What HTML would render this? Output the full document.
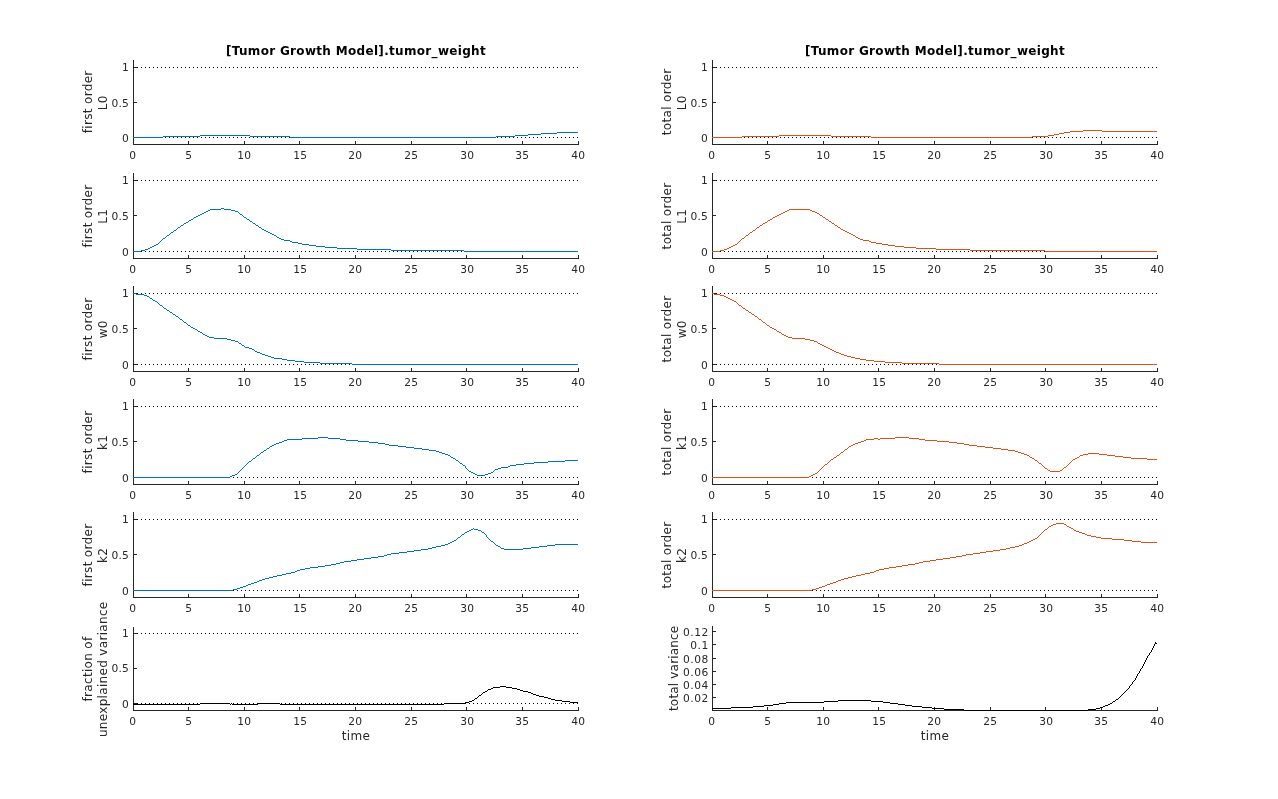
<!DOCTYPE html>
<html lang="en"><head><meta charset="utf-8"><title>[Tumor Growth Model].tumor_weight</title>
<style>html,body{margin:0;padding:0;background:#fff}body{width:1278px;height:799px;overflow:hidden}svg{display:block}text{font-family:"DejaVu Sans","Liberation Sans",sans-serif;fill:#262626}.t{font-size:10.667px;letter-spacing:0.21px}.l{font-size:12px;letter-spacing:0.32px}.h{font-size:12px;font-weight:bold;fill:#000;letter-spacing:0.32px}.ax{fill:#262626;shape-rendering:crispEdges}.c{fill:none;stroke-width:1;shape-rendering:crispEdges;stroke-linejoin:round}.d{stroke:#000;stroke-width:1;stroke-dasharray:1 3;shape-rendering:crispEdges;fill:none}</style></head><body>
<svg width="1278" height="799" viewBox="0 0 1278 799">
<rect x="0" y="0" width="1278" height="799" fill="#fff"/>
<g>
<rect class="ax" x="133" y="60" width="1" height="85"/>
<rect class="ax" x="133" y="144" width="446" height="1"/>
<text class="t" text-anchor="middle" x="132.7" y="159.2">0</text>
<rect class="ax" x="188" y="141" width="1" height="3"/>
<text class="t" text-anchor="middle" x="188.7" y="159.2">5</text>
<rect class="ax" x="244" y="141" width="1" height="3"/>
<text class="t" text-anchor="middle" x="244.15" y="159.2">10</text>
<rect class="ax" x="299" y="141" width="1" height="3"/>
<text class="t" text-anchor="middle" x="300.15" y="159.2">15</text>
<rect class="ax" x="355" y="141" width="1" height="3"/>
<text class="t" text-anchor="middle" x="355.15" y="159.2">20</text>
<rect class="ax" x="411" y="141" width="1" height="3"/>
<text class="t" text-anchor="middle" x="411.15" y="159.2">25</text>
<rect class="ax" x="466" y="141" width="1" height="3"/>
<text class="t" text-anchor="middle" x="467.15" y="159.2">30</text>
<rect class="ax" x="522" y="141" width="1" height="3"/>
<text class="t" text-anchor="middle" x="522.15" y="159.2">35</text>
<rect class="ax" x="578" y="141" width="1" height="3"/>
<text class="t" text-anchor="middle" x="578.15" y="159.2">40</text>
<rect class="ax" x="134" y="67" width="3" height="1"/>
<text class="t" text-anchor="end" x="129.11" y="71.1">1</text>
<rect class="ax" x="134" y="102" width="3" height="1"/>
<text class="t" text-anchor="end" x="129.11" y="106.6">0.5</text>
<rect class="ax" x="134" y="137" width="3" height="1"/>
<text class="t" text-anchor="end" x="129.11" y="142.1">0</text>
<line class="d" x1="133" y1="67.5" x2="579" y2="67.5"/>
<line class="d" x1="133" y1="137.5" x2="579" y2="137.5"/>
<path class="c" stroke="#0072BD" d="M557 132.5h21M541 133.5h16M528 134.5h13M200 135.5h50M515 135.5h13M163 136.5h37M250 136.5h40M496 136.5h19M133 137.5h30M290 137.5h206"/>
<text class="l" text-anchor="middle" transform="translate(92,101.8) rotate(-90)">first order</text>
<text class="l" text-anchor="middle" transform="translate(107,102.8) rotate(-90)">L0</text>
<text class="h" text-anchor="middle" x="356" y="55.1">[Tumor Growth Model].tumor_weight</text>
</g>
<g>
<rect class="ax" x="133" y="173" width="1" height="86"/>
<rect class="ax" x="133" y="258" width="446" height="1"/>
<text class="t" text-anchor="middle" x="132.7" y="273.2">0</text>
<rect class="ax" x="188" y="255" width="1" height="3"/>
<text class="t" text-anchor="middle" x="188.7" y="273.2">5</text>
<rect class="ax" x="244" y="255" width="1" height="3"/>
<text class="t" text-anchor="middle" x="244.15" y="273.2">10</text>
<rect class="ax" x="299" y="255" width="1" height="3"/>
<text class="t" text-anchor="middle" x="300.15" y="273.2">15</text>
<rect class="ax" x="355" y="255" width="1" height="3"/>
<text class="t" text-anchor="middle" x="355.15" y="273.2">20</text>
<rect class="ax" x="411" y="255" width="1" height="3"/>
<text class="t" text-anchor="middle" x="411.15" y="273.2">25</text>
<rect class="ax" x="466" y="255" width="1" height="3"/>
<text class="t" text-anchor="middle" x="467.15" y="273.2">30</text>
<rect class="ax" x="522" y="255" width="1" height="3"/>
<text class="t" text-anchor="middle" x="522.15" y="273.2">35</text>
<rect class="ax" x="578" y="255" width="1" height="3"/>
<text class="t" text-anchor="middle" x="578.15" y="273.2">40</text>
<rect class="ax" x="134" y="180" width="3" height="1"/>
<text class="t" text-anchor="end" x="129.11" y="184.1">1</text>
<rect class="ax" x="134" y="215" width="3" height="1"/>
<text class="t" text-anchor="end" x="129.11" y="219.6">0.5</text>
<rect class="ax" x="134" y="251" width="3" height="1"/>
<text class="t" text-anchor="end" x="129.11" y="256.1">0</text>
<line class="d" x1="133" y1="180.5" x2="579" y2="180.5"/>
<line class="d" x1="133" y1="251.5" x2="579" y2="251.5"/>
<path class="c" stroke="#0072BD" d="M221 208.5h3M210 209.5h11M224 209.5h7M208 210.5h2M231 210.5h4M206 211.5h2M235 211.5h3M204 212.5h2M238 212.5h1M202 213.5h2M239 213.5h1M200 214.5h2M240 214.5h2M198 215.5h2M242 215.5h1M196 216.5h2M243 216.5h1M194 217.5h2M244 217.5h2M193 218.5h1M246 218.5h1M191 219.5h2M247 219.5h2M189 220.5h2M249 220.5h1M188 221.5h1M250 221.5h2M186 222.5h2M252 222.5h1M184 223.5h2M253 223.5h2M183 224.5h1M255 224.5h1M181 225.5h2M256 225.5h2M180 226.5h1M258 226.5h1M178 227.5h2M259 227.5h2M177 228.5h1M261 228.5h1M176 229.5h1M262 229.5h2M174 230.5h2M264 230.5h2M173 231.5h1M266 231.5h2M171 232.5h2M268 232.5h2M170 233.5h1M270 233.5h2M169 234.5h1M272 234.5h2M167 235.5h2M274 235.5h2M166 236.5h1M276 236.5h1M165 237.5h1M277 237.5h2M163 238.5h2M279 238.5h2M162 239.5h1M281 239.5h3M161 240.5h1M284 240.5h6M160 241.5h1M290 241.5h2M159 242.5h1M292 242.5h6M158 243.5h1M298 243.5h4M156 244.5h2M302 244.5h7M154 245.5h2M309 245.5h7M152 246.5h2M316 246.5h9M150 247.5h2M325 247.5h12M148 248.5h2M337 248.5h20M145 249.5h3M357 249.5h34M141 250.5h4M391 250.5h73M133 251.5h8M464 251.5h114"/>
<text class="l" text-anchor="middle" transform="translate(92,216) rotate(-90)">first order</text>
<text class="l" text-anchor="middle" transform="translate(107,216.3) rotate(-90)">L1</text>
</g>
<g>
<rect class="ax" x="133" y="286" width="1" height="86"/>
<rect class="ax" x="133" y="371" width="446" height="1"/>
<text class="t" text-anchor="middle" x="132.7" y="386.2">0</text>
<rect class="ax" x="188" y="368" width="1" height="3"/>
<text class="t" text-anchor="middle" x="188.7" y="386.2">5</text>
<rect class="ax" x="244" y="368" width="1" height="3"/>
<text class="t" text-anchor="middle" x="244.15" y="386.2">10</text>
<rect class="ax" x="299" y="368" width="1" height="3"/>
<text class="t" text-anchor="middle" x="300.15" y="386.2">15</text>
<rect class="ax" x="355" y="368" width="1" height="3"/>
<text class="t" text-anchor="middle" x="355.15" y="386.2">20</text>
<rect class="ax" x="411" y="368" width="1" height="3"/>
<text class="t" text-anchor="middle" x="411.15" y="386.2">25</text>
<rect class="ax" x="466" y="368" width="1" height="3"/>
<text class="t" text-anchor="middle" x="467.15" y="386.2">30</text>
<rect class="ax" x="522" y="368" width="1" height="3"/>
<text class="t" text-anchor="middle" x="522.15" y="386.2">35</text>
<rect class="ax" x="578" y="368" width="1" height="3"/>
<text class="t" text-anchor="middle" x="578.15" y="386.2">40</text>
<rect class="ax" x="134" y="293" width="3" height="1"/>
<text class="t" text-anchor="end" x="129.11" y="297.1">1</text>
<rect class="ax" x="134" y="328" width="3" height="1"/>
<text class="t" text-anchor="end" x="129.11" y="332.6">0.5</text>
<rect class="ax" x="134" y="364" width="3" height="1"/>
<text class="t" text-anchor="end" x="129.11" y="369.1">0</text>
<line class="d" x1="133" y1="293.5" x2="579" y2="293.5"/>
<line class="d" x1="133" y1="364.5" x2="579" y2="364.5"/>
<path class="c" stroke="#0072BD" d="M133 293.5h3M136 294.5h8M144 295.5h3M147 296.5h2M149 297.5h1M150 298.5h2M152 299.5h1M153 300.5h2M155 301.5h2M157 302.5h1M158 303.5h1M159 304.5h1M160 305.5h2M162 306.5h1M163 307.5h1M164 308.5h2M166 309.5h1M167 310.5h2M169 311.5h1M170 312.5h2M172 313.5h1M173 314.5h2M175 315.5h1M176 316.5h2M178 317.5h1M179 318.5h1M180 319.5h2M182 320.5h1M183 321.5h1M184 322.5h2M186 323.5h1M187 324.5h1M188 325.5h2M190 326.5h1M191 327.5h2M193 328.5h2M195 329.5h2M197 330.5h1M198 331.5h2M200 332.5h2M202 333.5h1M203 334.5h2M205 335.5h2M207 336.5h2M209 337.5h5M214 338.5h13M227 339.5h4M231 340.5h4M235 341.5h3M238 342.5h1M239 343.5h2M241 344.5h1M242 345.5h2M244 346.5h1M245 347.5h4M249 348.5h3M252 349.5h2M254 350.5h1M255 351.5h2M257 352.5h3M260 353.5h2M262 354.5h3M265 355.5h3M268 356.5h3M271 357.5h3M274 358.5h8M282 359.5h5M287 360.5h8M295 361.5h9M304 362.5h16M320 363.5h32M352 364.5h226"/>
<text class="l" text-anchor="middle" transform="translate(92,329) rotate(-90)">first order</text>
<text class="l" text-anchor="middle" transform="translate(107,329.3) rotate(-90)">w0</text>
</g>
<g>
<rect class="ax" x="133" y="399" width="1" height="86"/>
<rect class="ax" x="133" y="484" width="446" height="1"/>
<text class="t" text-anchor="middle" x="132.7" y="499.2">0</text>
<rect class="ax" x="188" y="481" width="1" height="3"/>
<text class="t" text-anchor="middle" x="188.7" y="499.2">5</text>
<rect class="ax" x="244" y="481" width="1" height="3"/>
<text class="t" text-anchor="middle" x="244.15" y="499.2">10</text>
<rect class="ax" x="299" y="481" width="1" height="3"/>
<text class="t" text-anchor="middle" x="300.15" y="499.2">15</text>
<rect class="ax" x="355" y="481" width="1" height="3"/>
<text class="t" text-anchor="middle" x="355.15" y="499.2">20</text>
<rect class="ax" x="411" y="481" width="1" height="3"/>
<text class="t" text-anchor="middle" x="411.15" y="499.2">25</text>
<rect class="ax" x="466" y="481" width="1" height="3"/>
<text class="t" text-anchor="middle" x="467.15" y="499.2">30</text>
<rect class="ax" x="522" y="481" width="1" height="3"/>
<text class="t" text-anchor="middle" x="522.15" y="499.2">35</text>
<rect class="ax" x="578" y="481" width="1" height="3"/>
<text class="t" text-anchor="middle" x="578.15" y="499.2">40</text>
<rect class="ax" x="134" y="406" width="3" height="1"/>
<text class="t" text-anchor="end" x="129.11" y="410.1">1</text>
<rect class="ax" x="134" y="441" width="3" height="1"/>
<text class="t" text-anchor="end" x="129.11" y="445.6">0.5</text>
<rect class="ax" x="134" y="477" width="3" height="1"/>
<text class="t" text-anchor="end" x="129.11" y="482.1">0</text>
<line class="d" x1="133" y1="406.5" x2="579" y2="406.5"/>
<line class="d" x1="133" y1="477.5" x2="579" y2="477.5"/>
<path class="c" stroke="#0072BD" d="M318 437.5h10M302 438.5h16M328 438.5h12M287 439.5h15M340 439.5h6M284 440.5h3M346 440.5h12M282 441.5h2M358 441.5h11M279 442.5h3M369 442.5h9M276 443.5h3M378 443.5h7M274 444.5h2M385 444.5h4M272 445.5h2M389 445.5h9M270 446.5h2M398 446.5h8M269 447.5h1M406 447.5h8M267 448.5h2M414 448.5h8M266 449.5h1M422 449.5h7M264 450.5h2M429 450.5h7M263 451.5h1M436 451.5h3M261 452.5h2M439 452.5h3M260 453.5h1M442 453.5h3M259 454.5h1M445 454.5h3M257 455.5h2M448 455.5h2M256 456.5h1M450 456.5h1M255 457.5h1M451 457.5h2M253 458.5h2M453 458.5h2M252 459.5h1M455 459.5h1M251 460.5h1M456 460.5h2M565 460.5h13M249 461.5h2M458 461.5h1M548 461.5h17M248 462.5h1M459 462.5h1M534 462.5h14M247 463.5h1M460 463.5h2M524 463.5h10M246 464.5h1M462 464.5h1M516 464.5h8M245 465.5h1M463 465.5h2M510 465.5h6M244 466.5h1M465 466.5h1M508 466.5h2M243 467.5h1M465 467.5h1M501 467.5h7M242 468.5h1M466 468.5h1M498 468.5h3M241 469.5h1M467 469.5h1M495 469.5h3M240 470.5h1M468 470.5h1M494 470.5h1M239 471.5h1M469 471.5h2M493 471.5h1M238 472.5h1M471 472.5h2M491 472.5h2M237 473.5h1M473 473.5h2M488 473.5h3M235 474.5h2M475 474.5h2M485 474.5h3M232 475.5h3M477 475.5h8M230 476.5h2M133 477.5h97"/>
<text class="l" text-anchor="middle" transform="translate(92,442) rotate(-90)">first order</text>
<text class="l" text-anchor="middle" transform="translate(107,442.3) rotate(-90)">k1</text>
</g>
<g>
<rect class="ax" x="133" y="512" width="1" height="86"/>
<rect class="ax" x="133" y="597" width="446" height="1"/>
<text class="t" text-anchor="middle" x="132.7" y="612.2">0</text>
<rect class="ax" x="188" y="594" width="1" height="3"/>
<text class="t" text-anchor="middle" x="188.7" y="612.2">5</text>
<rect class="ax" x="244" y="594" width="1" height="3"/>
<text class="t" text-anchor="middle" x="244.15" y="612.2">10</text>
<rect class="ax" x="299" y="594" width="1" height="3"/>
<text class="t" text-anchor="middle" x="300.15" y="612.2">15</text>
<rect class="ax" x="355" y="594" width="1" height="3"/>
<text class="t" text-anchor="middle" x="355.15" y="612.2">20</text>
<rect class="ax" x="411" y="594" width="1" height="3"/>
<text class="t" text-anchor="middle" x="411.15" y="612.2">25</text>
<rect class="ax" x="466" y="594" width="1" height="3"/>
<text class="t" text-anchor="middle" x="467.15" y="612.2">30</text>
<rect class="ax" x="522" y="594" width="1" height="3"/>
<text class="t" text-anchor="middle" x="522.15" y="612.2">35</text>
<rect class="ax" x="578" y="594" width="1" height="3"/>
<text class="t" text-anchor="middle" x="578.15" y="612.2">40</text>
<rect class="ax" x="134" y="519" width="3" height="1"/>
<text class="t" text-anchor="end" x="129.11" y="523.1">1</text>
<rect class="ax" x="134" y="554" width="3" height="1"/>
<text class="t" text-anchor="end" x="129.11" y="558.6">0.5</text>
<rect class="ax" x="134" y="590" width="3" height="1"/>
<text class="t" text-anchor="end" x="129.11" y="595.1">0</text>
<line class="d" x1="133" y1="519.5" x2="579" y2="519.5"/>
<line class="d" x1="133" y1="590.5" x2="579" y2="590.5"/>
<path class="c" stroke="#0072BD" d="M473 528.5h1M471 529.5h2M474 529.5h4M469 530.5h2M478 530.5h3M467 531.5h2M481 531.5h1M465 532.5h2M482 532.5h2M464 533.5h1M484 533.5h1M462 534.5h2M485 534.5h1M461 535.5h1M486 535.5h1M460 536.5h1M486 536.5h1M458 537.5h2M487 537.5h1M457 538.5h1M488 538.5h1M456 539.5h1M489 539.5h1M454 540.5h2M490 540.5h1M452 541.5h2M491 541.5h2M450 542.5h2M493 542.5h1M448 543.5h2M494 543.5h1M445 544.5h3M495 544.5h1M555 544.5h23M441 545.5h4M496 545.5h2M547 545.5h8M436 546.5h5M498 546.5h2M539 546.5h8M432 547.5h4M500 547.5h1M531 547.5h8M428 548.5h4M501 548.5h3M523 548.5h8M421 549.5h7M504 549.5h19M414 550.5h7M407 551.5h7M399 552.5h8M391 553.5h8M387 554.5h4M384 555.5h3M378 556.5h6M371 557.5h7M364 558.5h7M357 559.5h7M351 560.5h6M344 561.5h7M340 562.5h4M336 563.5h4M331 564.5h5M325 565.5h6M318 566.5h7M310 567.5h8M305 568.5h5M300 569.5h5M297 570.5h3M295 571.5h2M291 572.5h4M286 573.5h5M282 574.5h4M277 575.5h5M273 576.5h4M269 577.5h4M265 578.5h4M262 579.5h3M259 580.5h3M257 581.5h2M254 582.5h3M251 583.5h3M248 584.5h3M246 585.5h2M243 586.5h3M240 587.5h3M237 588.5h3M233 589.5h4M133 590.5h100"/>
<text class="l" text-anchor="middle" transform="translate(92,555) rotate(-90)">first order</text>
<text class="l" text-anchor="middle" transform="translate(107,555.3) rotate(-90)">k2</text>
</g>
<g>
<rect class="ax" x="133" y="627" width="1" height="84"/>
<rect class="ax" x="133" y="710" width="446" height="1"/>
<text class="t" text-anchor="middle" x="132.7" y="725.2">0</text>
<rect class="ax" x="188" y="707" width="1" height="3"/>
<text class="t" text-anchor="middle" x="188.7" y="725.2">5</text>
<rect class="ax" x="244" y="707" width="1" height="3"/>
<text class="t" text-anchor="middle" x="244.15" y="725.2">10</text>
<rect class="ax" x="299" y="707" width="1" height="3"/>
<text class="t" text-anchor="middle" x="300.15" y="725.2">15</text>
<rect class="ax" x="355" y="707" width="1" height="3"/>
<text class="t" text-anchor="middle" x="355.15" y="725.2">20</text>
<rect class="ax" x="411" y="707" width="1" height="3"/>
<text class="t" text-anchor="middle" x="411.15" y="725.2">25</text>
<rect class="ax" x="466" y="707" width="1" height="3"/>
<text class="t" text-anchor="middle" x="467.15" y="725.2">30</text>
<rect class="ax" x="522" y="707" width="1" height="3"/>
<text class="t" text-anchor="middle" x="522.15" y="725.2">35</text>
<rect class="ax" x="578" y="707" width="1" height="3"/>
<text class="t" text-anchor="middle" x="578.15" y="725.2">40</text>
<rect class="ax" x="134" y="633" width="3" height="1"/>
<text class="t" text-anchor="end" x="129.11" y="637.1">1</text>
<rect class="ax" x="134" y="668" width="3" height="1"/>
<text class="t" text-anchor="end" x="129.11" y="671.6">0.5</text>
<rect class="ax" x="134" y="703" width="3" height="1"/>
<text class="t" text-anchor="end" x="129.11" y="708.1">0</text>
<line class="d" x1="133" y1="633.5" x2="579" y2="633.5"/>
<line class="d" x1="133" y1="703.5" x2="579" y2="703.5"/>
<path class="c" stroke="#000000" d="M500 686.5h6M493 687.5h7M506 687.5h6M491 688.5h2M512 688.5h5M488 689.5h3M517 689.5h3M487 690.5h1M520 690.5h3M485 691.5h2M523 691.5h5M483 692.5h2M528 692.5h3M482 693.5h1M531 693.5h2M481 694.5h1M533 694.5h3M479 695.5h2M536 695.5h3M478 696.5h1M539 696.5h5M477 697.5h1M544 697.5h4M475 698.5h2M548 698.5h3M474 699.5h1M551 699.5h4M472 700.5h2M555 700.5h7M469 701.5h3M562 701.5h8M465 702.5h4M570 702.5h8M200 703.5h30M231 703.5h1M258 703.5h22M444 703.5h21M133 704.5h67M230 704.5h1M232 704.5h26M280 704.5h164"/>
<text class="l" text-anchor="middle" transform="translate(92,669) rotate(-90)">fraction of</text>
<text class="l" text-anchor="middle" transform="translate(107,669.3) rotate(-90)">unexplained variance</text>
<text class="l" text-anchor="middle" x="356" y="740">time</text>
</g>
<g>
<rect class="ax" x="712" y="60" width="1" height="85"/>
<rect class="ax" x="712" y="144" width="446" height="1"/>
<text class="t" text-anchor="middle" x="711.7" y="159.2">0</text>
<rect class="ax" x="767" y="141" width="1" height="3"/>
<text class="t" text-anchor="middle" x="767.7" y="159.2">5</text>
<rect class="ax" x="823" y="141" width="1" height="3"/>
<text class="t" text-anchor="middle" x="823.15" y="159.2">10</text>
<rect class="ax" x="878" y="141" width="1" height="3"/>
<text class="t" text-anchor="middle" x="879.15" y="159.2">15</text>
<rect class="ax" x="934" y="141" width="1" height="3"/>
<text class="t" text-anchor="middle" x="934.15" y="159.2">20</text>
<rect class="ax" x="990" y="141" width="1" height="3"/>
<text class="t" text-anchor="middle" x="990.15" y="159.2">25</text>
<rect class="ax" x="1045" y="141" width="1" height="3"/>
<text class="t" text-anchor="middle" x="1046.15" y="159.2">30</text>
<rect class="ax" x="1101" y="141" width="1" height="3"/>
<text class="t" text-anchor="middle" x="1101.15" y="159.2">35</text>
<rect class="ax" x="1157" y="141" width="1" height="3"/>
<text class="t" text-anchor="middle" x="1157.15" y="159.2">40</text>
<rect class="ax" x="713" y="67" width="3" height="1"/>
<text class="t" text-anchor="end" x="708.11" y="71.1">1</text>
<rect class="ax" x="713" y="102" width="3" height="1"/>
<text class="t" text-anchor="end" x="708.11" y="106.6">0.5</text>
<rect class="ax" x="713" y="137" width="3" height="1"/>
<text class="t" text-anchor="end" x="708.11" y="142.1">0</text>
<line class="d" x1="712" y1="67.5" x2="1158" y2="67.5"/>
<line class="d" x1="712" y1="137.5" x2="1158" y2="137.5"/>
<path class="c" stroke="#D95319" d="M1083 130.5h19M1070 131.5h13M1102 131.5h55M1064 132.5h6M1059 133.5h5M1054 134.5h5M779 135.5h52M1048 135.5h6M742 136.5h37M831 136.5h40M1032 136.5h16M712 137.5h30M871 137.5h161"/>
<text class="l" text-anchor="middle" transform="translate(671,101.8) rotate(-90)">total order</text>
<text class="l" text-anchor="middle" transform="translate(686,102.8) rotate(-90)">L0</text>
<text class="h" text-anchor="middle" x="935" y="55.1">[Tumor Growth Model].tumor_weight</text>
</g>
<g>
<rect class="ax" x="712" y="173" width="1" height="86"/>
<rect class="ax" x="712" y="258" width="446" height="1"/>
<text class="t" text-anchor="middle" x="711.7" y="273.2">0</text>
<rect class="ax" x="767" y="255" width="1" height="3"/>
<text class="t" text-anchor="middle" x="767.7" y="273.2">5</text>
<rect class="ax" x="823" y="255" width="1" height="3"/>
<text class="t" text-anchor="middle" x="823.15" y="273.2">10</text>
<rect class="ax" x="878" y="255" width="1" height="3"/>
<text class="t" text-anchor="middle" x="879.15" y="273.2">15</text>
<rect class="ax" x="934" y="255" width="1" height="3"/>
<text class="t" text-anchor="middle" x="934.15" y="273.2">20</text>
<rect class="ax" x="990" y="255" width="1" height="3"/>
<text class="t" text-anchor="middle" x="990.15" y="273.2">25</text>
<rect class="ax" x="1045" y="255" width="1" height="3"/>
<text class="t" text-anchor="middle" x="1046.15" y="273.2">30</text>
<rect class="ax" x="1101" y="255" width="1" height="3"/>
<text class="t" text-anchor="middle" x="1101.15" y="273.2">35</text>
<rect class="ax" x="1157" y="255" width="1" height="3"/>
<text class="t" text-anchor="middle" x="1157.15" y="273.2">40</text>
<rect class="ax" x="713" y="180" width="3" height="1"/>
<text class="t" text-anchor="end" x="708.11" y="184.1">1</text>
<rect class="ax" x="713" y="215" width="3" height="1"/>
<text class="t" text-anchor="end" x="708.11" y="219.6">0.5</text>
<rect class="ax" x="713" y="251" width="3" height="1"/>
<text class="t" text-anchor="end" x="708.11" y="256.1">0</text>
<line class="d" x1="712" y1="180.5" x2="1158" y2="180.5"/>
<line class="d" x1="712" y1="251.5" x2="1158" y2="251.5"/>
<path class="c" stroke="#D95319" d="M789 209.5h21M787 210.5h2M810 210.5h2M785 211.5h2M812 211.5h3M783 212.5h2M815 212.5h2M781 213.5h2M817 213.5h2M779 214.5h2M819 214.5h1M777 215.5h2M820 215.5h2M775 216.5h2M822 216.5h1M773 217.5h2M823 217.5h2M772 218.5h1M825 218.5h1M770 219.5h2M826 219.5h2M768 220.5h2M828 220.5h1M767 221.5h1M829 221.5h2M765 222.5h2M831 222.5h1M763 223.5h2M832 223.5h2M762 224.5h1M834 224.5h1M760 225.5h2M835 225.5h2M759 226.5h1M837 226.5h1M757 227.5h2M838 227.5h2M756 228.5h1M840 228.5h1M755 229.5h1M841 229.5h2M753 230.5h2M843 230.5h2M752 231.5h1M845 231.5h2M750 232.5h2M847 232.5h2M749 233.5h1M849 233.5h2M748 234.5h1M851 234.5h2M746 235.5h2M853 235.5h2M745 236.5h1M855 236.5h1M744 237.5h1M856 237.5h2M742 238.5h2M858 238.5h2M741 239.5h1M860 239.5h3M740 240.5h1M863 240.5h6M739 241.5h1M869 241.5h2M738 242.5h1M871 242.5h5M737 243.5h1M876 243.5h6M735 244.5h2M882 244.5h6M733 245.5h2M888 245.5h7M731 246.5h2M895 246.5h9M729 247.5h2M904 247.5h12M727 248.5h2M916 248.5h20M724 249.5h3M936 249.5h34M720 250.5h4M970 250.5h75M712 251.5h8M1045 251.5h112"/>
<text class="l" text-anchor="middle" transform="translate(671,216) rotate(-90)">total order</text>
<text class="l" text-anchor="middle" transform="translate(686,216.3) rotate(-90)">L1</text>
</g>
<g>
<rect class="ax" x="712" y="286" width="1" height="86"/>
<rect class="ax" x="712" y="371" width="446" height="1"/>
<text class="t" text-anchor="middle" x="711.7" y="386.2">0</text>
<rect class="ax" x="767" y="368" width="1" height="3"/>
<text class="t" text-anchor="middle" x="767.7" y="386.2">5</text>
<rect class="ax" x="823" y="368" width="1" height="3"/>
<text class="t" text-anchor="middle" x="823.15" y="386.2">10</text>
<rect class="ax" x="878" y="368" width="1" height="3"/>
<text class="t" text-anchor="middle" x="879.15" y="386.2">15</text>
<rect class="ax" x="934" y="368" width="1" height="3"/>
<text class="t" text-anchor="middle" x="934.15" y="386.2">20</text>
<rect class="ax" x="990" y="368" width="1" height="3"/>
<text class="t" text-anchor="middle" x="990.15" y="386.2">25</text>
<rect class="ax" x="1045" y="368" width="1" height="3"/>
<text class="t" text-anchor="middle" x="1046.15" y="386.2">30</text>
<rect class="ax" x="1101" y="368" width="1" height="3"/>
<text class="t" text-anchor="middle" x="1101.15" y="386.2">35</text>
<rect class="ax" x="1157" y="368" width="1" height="3"/>
<text class="t" text-anchor="middle" x="1157.15" y="386.2">40</text>
<rect class="ax" x="713" y="293" width="3" height="1"/>
<text class="t" text-anchor="end" x="708.11" y="297.1">1</text>
<rect class="ax" x="713" y="328" width="3" height="1"/>
<text class="t" text-anchor="end" x="708.11" y="332.6">0.5</text>
<rect class="ax" x="713" y="364" width="3" height="1"/>
<text class="t" text-anchor="end" x="708.11" y="369.1">0</text>
<line class="d" x1="712" y1="293.5" x2="1158" y2="293.5"/>
<line class="d" x1="712" y1="364.5" x2="1158" y2="364.5"/>
<path class="c" stroke="#D95319" d="M712 293.5h2M714 294.5h6M720 295.5h4M724 296.5h2M726 297.5h2M728 298.5h2M730 299.5h2M732 300.5h2M734 301.5h2M736 302.5h1M737 303.5h1M738 304.5h1M739 305.5h2M741 306.5h1M742 307.5h1M743 308.5h2M745 309.5h1M746 310.5h2M748 311.5h1M749 312.5h2M751 313.5h1M752 314.5h2M754 315.5h1M755 316.5h2M757 317.5h1M758 318.5h1M759 319.5h2M761 320.5h1M762 321.5h1M763 322.5h2M765 323.5h1M766 324.5h1M767 325.5h2M769 326.5h1M770 327.5h2M772 328.5h2M774 329.5h2M776 330.5h1M777 331.5h2M779 332.5h2M781 333.5h1M782 334.5h2M784 335.5h2M786 336.5h2M788 337.5h4M792 338.5h13M805 339.5h5M810 340.5h4M814 341.5h3M817 342.5h1M818 343.5h2M820 344.5h2M822 345.5h2M824 346.5h2M826 347.5h2M828 348.5h2M830 349.5h2M832 350.5h2M834 351.5h2M836 352.5h3M839 353.5h2M841 354.5h3M844 355.5h3M847 356.5h4M851 357.5h4M855 358.5h5M860 359.5h6M866 360.5h8M874 361.5h11M885 362.5h17M902 363.5h37M939 364.5h218"/>
<text class="l" text-anchor="middle" transform="translate(671,329) rotate(-90)">total order</text>
<text class="l" text-anchor="middle" transform="translate(686,329.3) rotate(-90)">w0</text>
</g>
<g>
<rect class="ax" x="712" y="399" width="1" height="86"/>
<rect class="ax" x="712" y="484" width="446" height="1"/>
<text class="t" text-anchor="middle" x="711.7" y="499.2">0</text>
<rect class="ax" x="767" y="481" width="1" height="3"/>
<text class="t" text-anchor="middle" x="767.7" y="499.2">5</text>
<rect class="ax" x="823" y="481" width="1" height="3"/>
<text class="t" text-anchor="middle" x="823.15" y="499.2">10</text>
<rect class="ax" x="878" y="481" width="1" height="3"/>
<text class="t" text-anchor="middle" x="879.15" y="499.2">15</text>
<rect class="ax" x="934" y="481" width="1" height="3"/>
<text class="t" text-anchor="middle" x="934.15" y="499.2">20</text>
<rect class="ax" x="990" y="481" width="1" height="3"/>
<text class="t" text-anchor="middle" x="990.15" y="499.2">25</text>
<rect class="ax" x="1045" y="481" width="1" height="3"/>
<text class="t" text-anchor="middle" x="1046.15" y="499.2">30</text>
<rect class="ax" x="1101" y="481" width="1" height="3"/>
<text class="t" text-anchor="middle" x="1101.15" y="499.2">35</text>
<rect class="ax" x="1157" y="481" width="1" height="3"/>
<text class="t" text-anchor="middle" x="1157.15" y="499.2">40</text>
<rect class="ax" x="713" y="406" width="3" height="1"/>
<text class="t" text-anchor="end" x="708.11" y="410.1">1</text>
<rect class="ax" x="713" y="441" width="3" height="1"/>
<text class="t" text-anchor="end" x="708.11" y="445.6">0.5</text>
<rect class="ax" x="713" y="477" width="3" height="1"/>
<text class="t" text-anchor="end" x="708.11" y="482.1">0</text>
<line class="d" x1="712" y1="406.5" x2="1158" y2="406.5"/>
<line class="d" x1="712" y1="477.5" x2="1158" y2="477.5"/>
<path class="c" stroke="#D95319" d="M895 437.5h14M874 438.5h4M880 438.5h15M909 438.5h10M866 439.5h8M878 439.5h2M919 439.5h6M864 440.5h2M925 440.5h12M861 441.5h3M937 441.5h12M858 442.5h3M949 442.5h8M855 443.5h3M957 443.5h7M853 444.5h2M964 444.5h5M851 445.5h2M969 445.5h8M849 446.5h2M977 446.5h8M848 447.5h1M985 447.5h8M847 448.5h1M993 448.5h8M845 449.5h2M1001 449.5h7M844 450.5h1M1008 450.5h7M843 451.5h1M1015 451.5h3M841 452.5h2M1018 452.5h3M840 453.5h1M1021 453.5h3M1088 453.5h11M839 454.5h1M1024 454.5h3M1083 454.5h5M1099 454.5h8M837 455.5h2M1027 455.5h2M1080 455.5h3M1107 455.5h8M836 456.5h1M1029 456.5h1M1079 456.5h1M1115 456.5h8M834 457.5h2M1030 457.5h2M1077 457.5h2M1123 457.5h8M833 458.5h1M1032 458.5h2M1075 458.5h2M1131 458.5h16M831 459.5h2M1034 459.5h1M1073 459.5h2M1147 459.5h10M830 460.5h1M1035 460.5h2M1072 460.5h1M829 461.5h1M1037 461.5h1M1071 461.5h1M828 462.5h1M1038 462.5h1M1070 462.5h1M827 463.5h1M1039 463.5h2M1069 463.5h1M825 464.5h2M1041 464.5h1M1068 464.5h1M824 465.5h1M1042 465.5h1M1067 465.5h1M823 466.5h1M1043 466.5h1M1066 466.5h1M822 467.5h1M1044 467.5h1M1064 467.5h2M821 468.5h1M1045 468.5h2M1063 468.5h1M820 469.5h1M1047 469.5h1M1062 469.5h1M819 470.5h1M1048 470.5h2M1060 470.5h2M818 471.5h1M1050 471.5h10M817 472.5h1M815 473.5h2M813 474.5h2M811 475.5h2M809 476.5h2M712 477.5h97"/>
<text class="l" text-anchor="middle" transform="translate(671,442) rotate(-90)">total order</text>
<text class="l" text-anchor="middle" transform="translate(686,442.3) rotate(-90)">k1</text>
</g>
<g>
<rect class="ax" x="712" y="512" width="1" height="86"/>
<rect class="ax" x="712" y="597" width="446" height="1"/>
<text class="t" text-anchor="middle" x="711.7" y="612.2">0</text>
<rect class="ax" x="767" y="594" width="1" height="3"/>
<text class="t" text-anchor="middle" x="767.7" y="612.2">5</text>
<rect class="ax" x="823" y="594" width="1" height="3"/>
<text class="t" text-anchor="middle" x="823.15" y="612.2">10</text>
<rect class="ax" x="878" y="594" width="1" height="3"/>
<text class="t" text-anchor="middle" x="879.15" y="612.2">15</text>
<rect class="ax" x="934" y="594" width="1" height="3"/>
<text class="t" text-anchor="middle" x="934.15" y="612.2">20</text>
<rect class="ax" x="990" y="594" width="1" height="3"/>
<text class="t" text-anchor="middle" x="990.15" y="612.2">25</text>
<rect class="ax" x="1045" y="594" width="1" height="3"/>
<text class="t" text-anchor="middle" x="1046.15" y="612.2">30</text>
<rect class="ax" x="1101" y="594" width="1" height="3"/>
<text class="t" text-anchor="middle" x="1101.15" y="612.2">35</text>
<rect class="ax" x="1157" y="594" width="1" height="3"/>
<text class="t" text-anchor="middle" x="1157.15" y="612.2">40</text>
<rect class="ax" x="713" y="519" width="3" height="1"/>
<text class="t" text-anchor="end" x="708.11" y="523.1">1</text>
<rect class="ax" x="713" y="554" width="3" height="1"/>
<text class="t" text-anchor="end" x="708.11" y="558.6">0.5</text>
<rect class="ax" x="713" y="590" width="3" height="1"/>
<text class="t" text-anchor="end" x="708.11" y="595.1">0</text>
<line class="d" x1="712" y1="519.5" x2="1158" y2="519.5"/>
<line class="d" x1="712" y1="590.5" x2="1158" y2="590.5"/>
<path class="c" stroke="#D95319" d="M1056 523.5h8M1053 524.5h3M1064 524.5h2M1051 525.5h2M1066 525.5h1M1049 526.5h2M1067 526.5h2M1048 527.5h1M1069 527.5h2M1047 528.5h1M1071 528.5h2M1045 529.5h2M1073 529.5h1M1044 530.5h1M1074 530.5h2M1043 531.5h1M1076 531.5h3M1042 532.5h1M1079 532.5h3M1041 533.5h1M1082 533.5h3M1040 534.5h1M1085 534.5h2M1039 535.5h1M1087 535.5h4M1038 536.5h1M1091 536.5h5M1037 537.5h1M1096 537.5h5M1035 538.5h2M1101 538.5h11M1033 539.5h2M1112 539.5h12M1031 540.5h2M1124 540.5h8M1029 541.5h2M1132 541.5h9M1027 542.5h2M1141 542.5h16M1024 543.5h3M1022 544.5h2M1019 545.5h3M1015 546.5h4M1010 547.5h5M1006 548.5h4M1000 549.5h6M993 550.5h7M986 551.5h7M980 552.5h6M973 553.5h7M966 554.5h7M962 555.5h4M956 556.5h6M950 557.5h6M943 558.5h7M936 559.5h7M930 560.5h6M923 561.5h7M919 562.5h4M915 563.5h4M908 564.5h7M902 565.5h6M896 566.5h6M889 567.5h7M884 568.5h5M879 569.5h5M876 570.5h3M874 571.5h2M870 572.5h4M865 573.5h5M861 574.5h4M856 575.5h5M852 576.5h4M848 577.5h4M844 578.5h4M841 579.5h3M838 580.5h3M836 581.5h2M833 582.5h3M830 583.5h3M827 584.5h3M825 585.5h2M822 586.5h3M819 587.5h3M816 588.5h3M812 589.5h4M712 590.5h100"/>
<text class="l" text-anchor="middle" transform="translate(671,555) rotate(-90)">total order</text>
<text class="l" text-anchor="middle" transform="translate(686,555.3) rotate(-90)">k2</text>
</g>
<g>
<rect class="ax" x="712" y="626" width="1" height="85"/>
<rect class="ax" x="712" y="710" width="446" height="1"/>
<text class="t" text-anchor="middle" x="711.7" y="725.2">0</text>
<rect class="ax" x="767" y="707" width="1" height="3"/>
<text class="t" text-anchor="middle" x="767.7" y="725.2">5</text>
<rect class="ax" x="823" y="707" width="1" height="3"/>
<text class="t" text-anchor="middle" x="823.15" y="725.2">10</text>
<rect class="ax" x="878" y="707" width="1" height="3"/>
<text class="t" text-anchor="middle" x="879.15" y="725.2">15</text>
<rect class="ax" x="934" y="707" width="1" height="3"/>
<text class="t" text-anchor="middle" x="934.15" y="725.2">20</text>
<rect class="ax" x="990" y="707" width="1" height="3"/>
<text class="t" text-anchor="middle" x="990.15" y="725.2">25</text>
<rect class="ax" x="1045" y="707" width="1" height="3"/>
<text class="t" text-anchor="middle" x="1046.15" y="725.2">30</text>
<rect class="ax" x="1101" y="707" width="1" height="3"/>
<text class="t" text-anchor="middle" x="1101.15" y="725.2">35</text>
<rect class="ax" x="1157" y="707" width="1" height="3"/>
<text class="t" text-anchor="middle" x="1157.15" y="725.2">40</text>
<rect class="ax" x="713" y="631" width="3" height="1"/>
<text class="t" text-anchor="end" style="letter-spacing:0.45px" x="708.65" y="635.8">0.12</text>
<rect class="ax" x="713" y="644" width="3" height="1"/>
<text class="t" text-anchor="end" style="letter-spacing:0.45px" x="708.65" y="648.8">0.1</text>
<rect class="ax" x="713" y="658" width="3" height="1"/>
<text class="t" text-anchor="end" style="letter-spacing:0.45px" x="708.65" y="662.8">0.08</text>
<rect class="ax" x="713" y="671" width="3" height="1"/>
<text class="t" text-anchor="end" style="letter-spacing:0.45px" x="708.65" y="675.8">0.06</text>
<rect class="ax" x="713" y="684" width="3" height="1"/>
<text class="t" text-anchor="end" style="letter-spacing:0.45px" x="708.65" y="688.8">0.04</text>
<rect class="ax" x="713" y="697" width="3" height="1"/>
<text class="t" text-anchor="end" style="letter-spacing:0.45px" x="708.65" y="701.8">0.02</text>
<path class="c" stroke="#000000" d="M1155 642.5h1M1155 643.5h2M1154 644.5h1M1154 645.5h1M1153 646.5h1M1153 647.5h1M1152 648.5h1M1152 649.5h1M1151 650.5h1M1151 651.5h1M1150 652.5h1M1149 653.5h1M1149 654.5h1M1148 655.5h1M1147 656.5h1M1147 657.5h1M1146 658.5h1M1146 659.5h1M1145 660.5h1M1145 661.5h1M1144 662.5h1M1144 663.5h1M1143 664.5h1M1143 665.5h1M1142 666.5h1M1142 667.5h1M1141 668.5h1M1140 669.5h1M1140 670.5h1M1139 671.5h1M1139 672.5h1M1138 673.5h1M1137 674.5h1M1137 675.5h1M1136 676.5h1M1136 677.5h1M1135 678.5h1M1135 679.5h1M1134 680.5h1M1133 681.5h1M1132 682.5h1M1132 683.5h1M1131 684.5h1M1130 685.5h1M1129 686.5h1M1129 687.5h1M1128 688.5h1M1127 689.5h1M1126 690.5h1M1125 691.5h1M1124 692.5h1M1123 693.5h1M1122 694.5h1M1121 695.5h1M1120 696.5h1M1119 697.5h1M1118 698.5h1M1116 699.5h2M838 700.5h33M1115 700.5h1M824 701.5h14M871 701.5h12M1113 701.5h2M786 702.5h38M883 702.5h7M1112 702.5h1M779 703.5h7M890 703.5h8M1110 703.5h2M773 704.5h6M898 704.5h7M1108 704.5h2M764 705.5h9M905 705.5h7M1105 705.5h3M753 706.5h11M912 706.5h10M1103 706.5h2M731 707.5h22M922 707.5h10M1100 707.5h3M712 708.5h19M932 708.5h12M1096 708.5h4M944 709.5h20M1088 709.5h8M964 710.5h124"/>
<text class="l" text-anchor="middle" style="letter-spacing:0.18px" transform="translate(677.5,668.3) rotate(-90)">total variance</text>
<text class="l" text-anchor="middle" x="935" y="740">time</text>
</g>
</svg></body></html>
